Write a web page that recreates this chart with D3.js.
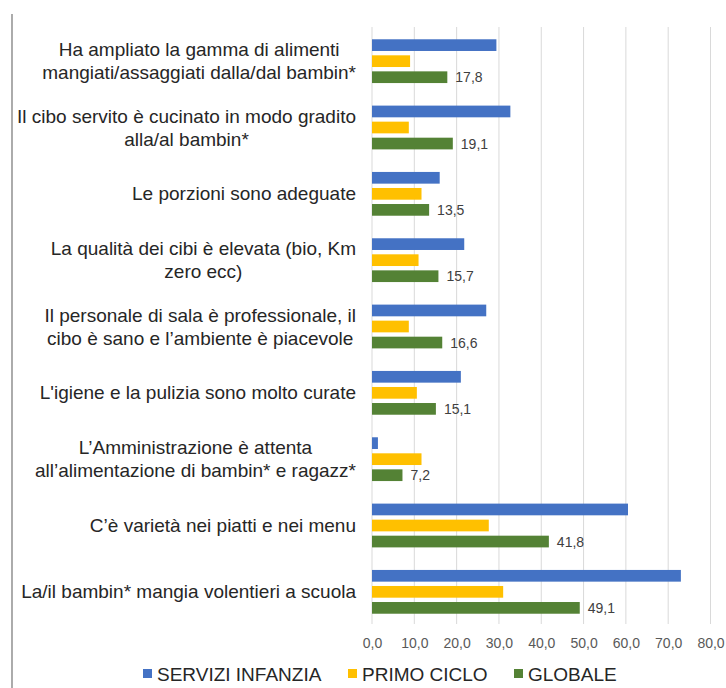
<!DOCTYPE html>
<html lang="it">
<head>
<meta charset="UTF-8">
<title>Mensa scolastica</title>
<script src="https://d3js.org/d3.v7.min.js"></script>
<style>
    body { margin: 0; background: #fff; }
    svg text { font-family: "Liberation Sans", Arial, sans-serif; }
    .cat { font-size: 19px; fill: #262626; }
    .tick-label { font-size: 14px; fill: #595959; }
    .val { font-size: 14px; fill: #404040; }
    .legend text { font-size: 19px; fill: #262626; }
</style>
</head>
<body>
<div id="chart"></div>
<script>
    // categories (top to bottom), each split into its display lines
    const categories = [
        ["Ha ampliato la gamma di alimenti", "mangiati/assaggiati dalla/dal bambin*"],
        ["Il cibo servito è cucinato in modo gradito", "alla/al bambin*"],
        ["Le porzioni sono adeguate"],
        ["La qualità dei cibi è elevata (bio, Km", "zero ecc)"],
        ["Il personale di sala è professionale, il", "cibo è sano e l’ambiente è piacevole"],
        ["L'igiene e la pulizia sono molto curate"],
        ["L’Amministrazione è attenta", "all’alimentazione di bambin* e ragazz*"],
        ["C’è varietà nei piatti e nei menu"],
        ["La/il bambin* mangia volentieri a scuola"]
    ];

    const seriesNames = ["SERVIZI INFANZIA", "PRIMO CICLO", "GLOBALE"];
    const serviziInfanzia = [29.4, 32.7, 16.0, 21.8, 27.0, 21.0, 1.4, 60.5, 73.0];
    const primoCiclo = [9.0, 8.7, 11.7, 11.0, 8.7, 10.6, 11.7, 27.6, 31.0];
    const globale = [17.8, 19.1, 13.5, 15.7, 16.6, 15.1, 7.2, 41.8, 49.1];
    const xTicks = [0, 10, 20, 30, 40, 50, 60, 70, 80];

    const colors = ["#4472C4", "#FFC000", "#548235"];
    const seriesValues = [serviziInfanzia, primoCiclo, globale];

    const width = 726, height = 688;
    const fmt = v => v.toFixed(1).replace(".", ",");

    const svg = d3.select("#chart").append("svg")
        .attr("width", width)
        .attr("height", height);

    // frame line on the left
    svg.append("line")
        .attr("x1", 12).attr("x2", 12)
        .attr("y1", 14).attr("y2", height)
        .attr("stroke", "#7f7f7f").attr("stroke-width", 1.3);

    const plotTop = 27, plotBottom = 624;

    const x = d3.scaleLinear()
        .domain([0, 80])
        .range([372, 710.5]);

    const yGroup = d3.scaleBand()
        .domain(d3.range(categories.length))
        .range([plotTop + 1, plotBottom + 1])
        .paddingInner(0.34)
        .paddingOuter(0.17);

    const ySeries = d3.scaleBand()
        .domain(d3.range(seriesNames.length))
        .range([0, yGroup.bandwidth()])
        .paddingInner(0.27);

    // gridlines
    svg.append("g")
        .selectAll("line")
        .data(xTicks)
        .join("line")
        .attr("x1", d => x(d)).attr("x2", d => x(d))
        .attr("y1", plotTop).attr("y2", plotBottom)
        .attr("stroke", "#d9d9d9").attr("stroke-width", 1);

    // x axis labels
    const xAxis = svg.append("g")
        .attr("transform", `translate(0,${plotBottom + 8})`)
        .call(d3.axisBottom(x).tickValues(xTicks).tickFormat(fmt).tickSize(0));
    xAxis.select(".domain").remove();
    xAxis.selectAll("text")
        .attr("class", "tick-label")
        .attr("font-size", null)
        .attr("font-family", null)
        .attr("fill", null)
        .attr("dy", "0.9em");

    // bars
    const groups = svg.append("g")
        .selectAll("g")
        .data(categories.map((c, i) => i))
        .join("g")
        .attr("transform", i => `translate(0,${yGroup(i)})`);

    groups.selectAll("rect")
        .data(i => seriesValues.map((vals, s) => ({ s, v: vals[i] })))
        .join("rect")
        .attr("x", x(0))
        .attr("y", d => ySeries(d.s))
        .attr("width", d => x(d.v) - x(0))
        .attr("height", ySeries.bandwidth())
        .attr("fill", d => colors[d.s]);

    // value labels on the GLOBALE series
    groups.append("text")
        .attr("class", "val")
        .attr("x", i => x(globale[i]) + 8)
        .attr("y", ySeries(2) + ySeries.bandwidth() / 2)
        .attr("dy", "0.36em")
        .text(i => fmt(globale[i]));

    // category labels: block right-aligned to the axis, lines centred inside it
    const labelRight = 356;
    const lineH = 23;
    categories.forEach((lines, i) => {
        const cy = yGroup(i) + yGroup.bandwidth() / 2;
        const t = svg.append("text").attr("class", "cat").attr("text-anchor", "middle");
        const spans = lines.map((ln, k) => t.append("tspan")
            .attr("y", cy + (k - (lines.length - 1) / 2) * lineH)
            .attr("dy", "0.35em")
            .text(ln));
        const maxW = d3.max(spans, s => s.node().getComputedTextLength());
        spans.forEach(s => s.attr("x", labelRight - maxW / 2));
    });

    // legend
    const legendY = 674;
    const legendX = [143, 348, 514];
    const legend = svg.append("g").attr("class", "legend")
        .selectAll("g")
        .data(seriesNames)
        .join("g")
        .attr("transform", (d, i) => `translate(${legendX[i]},${legendY})`);
    legend.append("rect")
        .attr("x", 0).attr("y", -5)
        .attr("width", 9).attr("height", 9)
        .attr("fill", (d, i) => colors[i]);
    legend.append("text")
        .attr("x", 14)
        .attr("dy", "0.36em")
        .text(d => d);
</script>
</body>
</html>
